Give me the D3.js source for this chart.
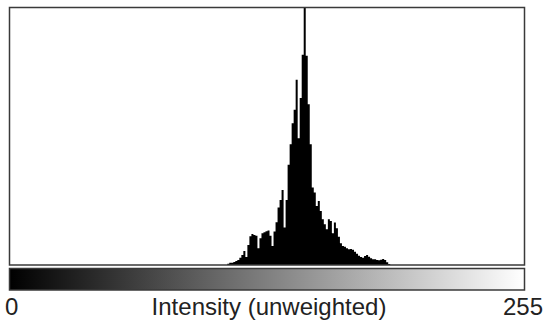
<!DOCTYPE html>
<meta charset="utf-8">
<script src="https://d3js.org/d3.v7.min.js"></script>
<style>
  body { margin: 0; background: #fff; }
  text { font-family: "Liberation Sans", Arial, sans-serif; fill: #222; }
</style>
<div id="hist"></div>
<script>

// histogram counts, bins 108..188 (all other bins are empty)
var firstBin = 108;
var counts = [4,7,7,9,12,15,22,30,42,24,
              60,86,93,90,88,50,80,95,98,101,
              103,88,57,100,128,172,195,225,112,195,
              300,362,425,465,555,380,500,630,770,627,
              482,362,232,217,177,192,162,137,122,107,
              137,132,95,127,110,85,65,57,55,50,
              47,48,46,40,34,28,24,22,27,30,
              25,20,17,17,15,14,16,18,15,8,
              3];
var axisLabels = ["0", "255"];
var title = "Intensity (unweighted)";

var W = 547, H = 325;
var frame = {left: 9.5, right: 524.5, top: 7.5, bottom: 265};

var svg = d3.select("#hist").append("svg")
    .attr("width", W)
    .attr("height", H);

var hist = d3.range(256).map(function (i) {
  var j = i - firstBin;
  return {bin: i, n: (j >= 0 && j < counts.length) ? counts[j] : 0};
});

var x = d3.scaleLinear().domain([0, 256]).range([10, 525]);
var y = d3.scaleLinear().domain([0, d3.max(counts)]).range([frame.bottom, 8]);

// bars as one stepped area so neighbouring bins leave no seams
var pts = hist.concat([{bin: 256, n: 0}]);
var area = d3.area()
    .curve(d3.curveStepAfter)
    .x(function (d) { return x(d.bin); })
    .y0(y(0))
    .y1(function (d) { return y(d.n); });

svg.append("path")
    .datum(pts)
    .attr("d", area)
    .attr("fill", "#000");

// frame
svg.append("rect")
    .attr("x", frame.left)
    .attr("y", frame.top)
    .attr("width", frame.right - frame.left)
    .attr("height", frame.bottom - frame.top)
    .attr("fill", "none")
    .attr("stroke", "#3a3a3a")
    .attr("stroke-width", 1.5);

// grey ramp
var grad = svg.append("defs").append("linearGradient")
    .attr("id", "ramp");
grad.append("stop").attr("offset", "0%").attr("stop-color", "#000");
grad.append("stop").attr("offset", "100%").attr("stop-color", "#fff");

svg.append("rect")
    .attr("x", frame.left)
    .attr("y", 268.5)
    .attr("width", frame.right - frame.left)
    .attr("height", 21.5)
    .attr("fill", "url(#ramp)")
    .attr("stroke", "#3a3a3a")
    .attr("stroke-width", 1.5);

// labels
svg.append("text")
    .attr("x", 5)
    .attr("y", 315)
    .attr("font-size", 24)
    .text(axisLabels[0]);

svg.append("text")
    .attr("x", 543)
    .attr("y", 315)
    .attr("text-anchor", "end")
    .attr("font-size", 24)
    .text(axisLabels[1]);

svg.append("text")
    .attr("x", 269)
    .attr("y", 315)
    .attr("text-anchor", "middle")
    .attr("font-size", 24)
    .text(title);

</script>
